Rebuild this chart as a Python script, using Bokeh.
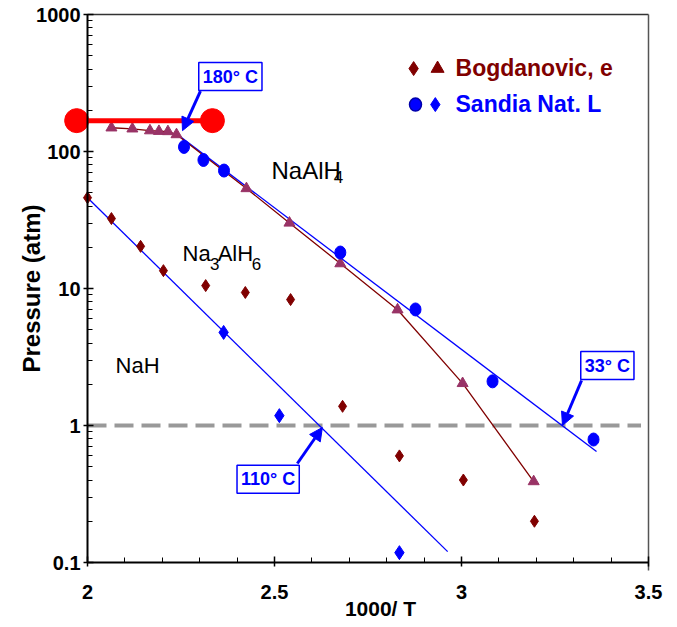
import math
from bokeh.plotting import figure
from bokeh.models import (Range1d, FixedTicker, CustomJSTickFormatter, Label,
                          Arrow, NormalHead)
from bokeh.embed import file_html
from bokeh.resources import INLINE

# ---------------- data ----------------
bog_dia_x = [2.00, 2.064, 2.142, 2.203, 2.316, 2.422, 2.543, 2.682, 2.834, 3.005, 3.195]
bog_dia_p = [46, 32.4, 20.3, 13.5, 10.5, 9.35, 8.3, 1.38, 0.60, 0.40, 0.20]

bog_tri_x = [2.064, 2.120, 2.167, 2.191, 2.215, 2.238, 2.425, 2.540, 2.676, 2.829, 3.003, 3.193]
bog_tri_p = [149, 146.5, 142, 140.6, 140, 133, 53.7, 30.1, 15.2, 7.0, 2.03, 0.39]

san_cir_x = [2.258, 2.310, 2.365, 2.676, 2.877, 3.083, 3.353]
san_cir_p = [108, 86.7, 72.6, 18.3, 7.03, 2.1, 0.79]

san_dia_x = [2.364, 2.513, 2.834]
san_dia_p = [4.78, 1.18, 0.118]

fit_low_x = [2.0, 2.963]
fit_low_p = [46, 0.12]
fit_high_x = [2.238, 3.361]
fit_high_p = [135, 0.645]

red_x = [1.971, 2.334]
red_p = [168, 168]

ref_pressure = 1.0

x_min, x_max = 2.0, 3.5
p_min, p_max = 0.1, 1000
x_ticks = [2, 2.5, 3, 3.5]
x_tick_labels = ["2", "2.5", "3", "3.5"]
x_minor = [2.1, 2.2, 2.3, 2.4, 2.6, 2.7, 2.8, 2.9, 3.1, 3.2, 3.3, 3.4]
y_ticks = [0.1, 1, 10, 100, 1000]
y_tick_labels = ["0.1", "1", "10", "100", "1000"]
y_minor = [m * d for d in (0.1, 1, 10, 100) for m in range(2, 10)]
x_title = "1000/ T"
y_title = "Pressure (atm)"

callout_text = ["180° C", "110° C", "33° C"]
callout_x = [2.382, 2.483, 3.390]
callout_p = [352, 0.406, 2.74]
arrow_x0 = [2.302, 2.561, 3.321]
arrow_p0 = [276, 0.528, 2.13]
arrow_x1 = [2.254, 2.628, 3.270]
arrow_p1 = [142, 0.967, 1.0]

species_text = ["NaAlH", "Na", "AlH", "NaH"]
species_x = [2.492, 2.254, 2.348, 2.075]
species_p = [72.6, 18.0, 18.0, 2.74]
species_size = ["24px", "22px", "22px", "22px"]
sub_text = ["4", "3", "6"]
sub_x = [2.671, 2.340, 2.452]
sub_p = [64.6, 15.2, 15.2]

legend_text = ["Bogdanovic, e", "Sandia Nat. L"]
legend_text_x = [2.984, 2.984]
legend_text_p = [410, 224]
leg1_dia = (2.872, 403)
leg1_tri = (2.936, 403)
leg2_cir = (2.877, 220)
leg2_dia = (2.930, 220)

MAROON = "#800000"
MAUVE = "#993366"
BLUE = "#0000FF"
RED = "#FF0000"
FONT = "Liberation Sans"

# ---------------- layout geometry (pixels) ----------------
W, H = 672, 624
FRAME_L, FRAME_B = 12, 6   # the frame fills the canvas; axes are pinned inside it
AX_L, AX_R = 87, 648       # pixel position of x = 2 and x = 3.5
AX_T, AX_B = 14, 562       # pixel position of p = 1000 and p = 0.1
px_per_x = (AX_R - AX_L) / (x_max - x_min)
px_per_dec = (AX_B - AX_T) / (math.log10(p_max) - math.log10(p_min))
x_lo = x_min - (AX_L - FRAME_L) / px_per_x
x_hi = x_max + (W - AX_R) / px_per_x
p_hi = p_max * 10 ** (AX_T / px_per_dec)
p_lo = p_min / 10 ** ((H - FRAME_B - AX_B) / px_per_dec)


def below(px):
    """pressure value that lies px pixels below the p = 0.1 axis"""
    return p_min / 10 ** (px / px_per_dec)


p = figure(width=W, height=H, x_range=Range1d(x_lo, x_hi), y_range=Range1d(p_lo, p_hi),
           y_axis_type="log", output_backend="svg", toolbar_location=None,
           min_border_left=FRAME_L, min_border_right=0, min_border_top=0,
           min_border_bottom=FRAME_B)
p.grid.visible = False
p.outline_line_color = None
p.background_fill_color = "white"
p.border_fill_color = "white"

blank = CustomJSTickFormatter(code="return '';")
for ax, tk, mn in ((p.xaxis[0], x_ticks, x_minor), (p.yaxis[0], y_ticks, y_minor)):
    ax.ticker = FixedTicker(ticks=tk, minor_ticks=mn)
    ax.formatter = blank
    ax.major_label_standoff = 0
    ax.axis_label = None
    ax.axis_line_width = 2
    ax.axis_line_color = "black"
    ax.major_tick_in = 6
    ax.major_tick_out = 4
    ax.minor_tick_in = 5
    ax.minor_tick_out = 0
    ax.major_tick_line_width = 1.5
    ax.minor_tick_line_width = 1
    ax.major_label_text_font_size = "1px"

p.xaxis.bounds = (x_min, x_max)
p.xaxis.fixed_location = p_min
p.yaxis.bounds = (p_min, p_max)
p.yaxis.fixed_location = x_min

# tick labels and axis titles
lab_x = x_min - 7 / px_per_x
for t, v in zip(y_tick_labels, y_ticks):
    p.add_layout(Label(x=lab_x, y=v, text=t, text_align="right", text_baseline="middle",
                       text_font=FONT, text_font_style="bold", text_font_size="20px",
                       text_color="black"))
for t, v in zip(x_tick_labels, x_ticks):
    p.add_layout(Label(x=v, y=below(29), text=t, text_align="center", text_baseline="middle",
                       text_font=FONT, text_font_style="bold", text_font_size="20px",
                       text_color="black"))
p.add_layout(Label(x=x_min - 56 / px_per_x, y=math.sqrt(p_min * p_max), text=y_title,
                   angle=math.pi / 2, text_align="center", text_baseline="middle",
                   text_font=FONT, text_font_style="bold", text_font_size="24px",
                   text_color="black"))
p.add_layout(Label(x=x_min + 293 / px_per_x, y=below(46), text=x_title,
                   text_align="center", text_baseline="middle",
                   text_font=FONT, text_font_style="bold", text_font_size="21px",
                   text_color="black"))

# top and right frame borders
p.line([x_min, x_max], [p_max, p_max], line_color="#333333", line_width=1.5)
p.line([x_max, x_max], [below(8), p_max], line_color="#555555", line_width=1.5)

# reference 1 atm dashed line
p.line([x_min, x_max - 0.02], [ref_pressure, ref_pressure], line_color="#999999",
       line_width=4, line_dash="19 8")

# fit lines
p.line(fit_low_x, fit_low_p, line_color=BLUE, line_width=1.3)
p.line(fit_high_x, fit_high_p, line_color=BLUE, line_width=1.3)
p.line(bog_tri_x, bog_tri_p, line_color=MAROON, line_width=1.3)

# data markers
p.scatter(bog_dia_x, bog_dia_p, marker="diamond", size=12, fill_color=MAROON, line_color=MAROON)
p.scatter(bog_tri_x, bog_tri_p, marker="triangle", size=11, fill_color=MAUVE, line_color=MAUVE)
p.ellipse(san_cir_x, san_cir_p, width=11, height=13, width_units="screen", height_units="screen",
          fill_color=BLUE, line_color=BLUE)
p.scatter(san_dia_x, san_dia_p, marker="diamond", size=14, fill_color=BLUE, line_color=BLUE)

# red horizontal bar with end dots
p.line(red_x, red_p, line_color=RED, line_width=5)
p.scatter(red_x, red_p, marker="circle", size=24, fill_color=RED, line_color=RED)

# callout arrows + boxes
for t, x, y, x0, y0, x1, y1 in zip(callout_text, callout_x, callout_p,
                                   arrow_x0, arrow_p0, arrow_x1, arrow_p1):
    p.add_layout(Arrow(end=NormalHead(size=13, fill_color=BLUE, line_color=BLUE),
                       x_start=x0, y_start=y0, x_end=x1, y_end=y1,
                       line_color=BLUE, line_width=3))
    p.add_layout(Label(x=x, y=y, text=t, text_align="center", text_baseline="middle",
                       text_font=FONT, text_font_style="bold", text_font_size="18px",
                       text_color=BLUE, background_fill_color="white",
                       border_line_color=BLUE, border_line_width=1.5, padding=4))

# species labels
for t, x, y, s in zip(species_text, species_x, species_p, species_size):
    p.add_layout(Label(x=x, y=y, text=t, text_align="left", text_baseline="middle",
                       text_font=FONT, text_font_size=s, text_color="black"))
for t, x, y in zip(sub_text, sub_x, sub_p):
    p.add_layout(Label(x=x, y=y, text=t, text_align="center", text_baseline="middle",
                       text_font=FONT, text_font_size="17px", text_color="black"))

# legend (custom)
p.scatter([leg1_dia[0]], [leg1_dia[1]], marker="diamond", size=14, fill_color=MAROON, line_color=MAROON)
p.scatter([leg1_tri[0]], [leg1_tri[1]], marker="triangle", size=13, fill_color=MAROON, line_color=MAROON)
p.ellipse([leg2_cir[0]], [leg2_cir[1]], width=12, height=13, width_units="screen", height_units="screen",
          fill_color=BLUE, line_color="#0000AA", line_width=1.5)
p.scatter([leg2_dia[0]], [leg2_dia[1]], marker="diamond", size=14, fill_color=BLUE, line_color=BLUE)
for t, x, y, c in zip(legend_text, legend_text_x, legend_text_p, [MAROON, BLUE]):
    p.add_layout(Label(x=x, y=y, text=t, text_align="left", text_baseline="middle",
                       text_font=FONT, text_font_style="bold", text_font_size="23px",
                       text_color=c))

open("out.html", "w").write(file_html(p, INLINE))
